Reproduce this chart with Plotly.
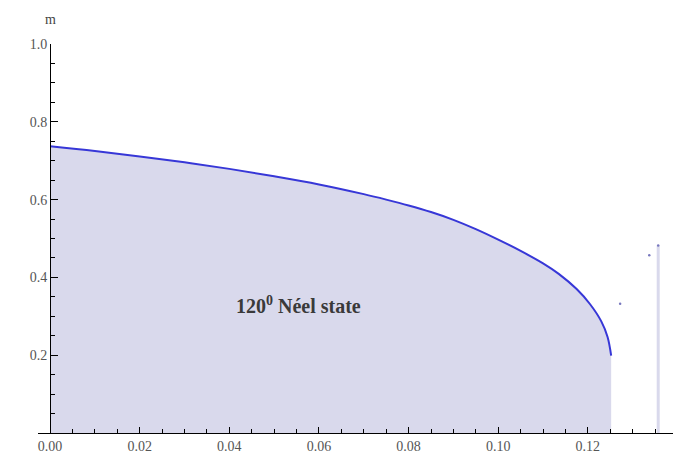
import plotly.graph_objects as go

# data
alpha = [0.0, 0.01, 0.02, 0.03, 0.04, 0.05, 0.06, 0.07, 0.075, 0.08, 0.085,
         0.09, 0.095, 0.10, 0.105, 0.11, 0.1135, 0.1175, 0.1205, 0.123, 0.1244, 0.1252]
m_vals = [0.737, 0.725, 0.711, 0.696, 0.679, 0.660, 0.639, 0.614, 0.600, 0.585, 0.568,
          0.548, 0.524, 0.497, 0.468, 0.436, 0.409, 0.370, 0.331, 0.287, 0.247, 0.199]
spike_alpha = [0.1357, 0.1357]
spike_m = [0.0, 0.482]
dots_alpha = [0.1272, 0.1337, 0.1357]
dots_m = [0.332, 0.457, 0.482]

x_ticks = [0.0, 0.02, 0.04, 0.06, 0.08, 0.10, 0.12]
x_labels = ["0.00", "0.02", "0.04", "0.06", "0.08", "0.10", "0.12"]
y_ticks = [0.2, 0.4, 0.6, 0.8, 1.0]
y_labels = ["0.2", "0.4", "0.6", "0.8", "1.0"]

fill_col = "rgb(217,217,236)"
line_col = "rgb(55,55,215)"
tick_font = dict(family="Liberation Serif", size=14, color="#555555")

fig = go.Figure()
fig.add_trace(go.Scatter(x=alpha, y=m_vals, mode="lines", fill="tozeroy",
                         fillcolor=fill_col,
                         line=dict(color=line_col, width=2, shape="spline", smoothing=1.0),
                         hoverinfo="skip", showlegend=False))
fig.add_trace(go.Scatter(x=spike_alpha, y=spike_m, mode="lines",
                         line=dict(color=fill_col, width=3), showlegend=False))
fig.add_trace(go.Scatter(x=dots_alpha, y=dots_m, mode="markers",
                         marker=dict(color="rgb(120,120,190)", size=2.5), showlegend=False))

x0 = -0.0027
x1 = 0.139
l_m, r_m = 30, 20
ypos = (0 - x0) / (x1 - x0)

fig.update_layout(
    width=685, height=458,
    margin=dict(l=l_m, r=r_m, t=36, b=30),
    plot_bgcolor="white", paper_bgcolor="white",
    showlegend=False,
    xaxis=dict(range=[x0, x1], showgrid=False, zeroline=False,
               showline=True, linecolor="black", linewidth=1.2,
               tickvals=x_ticks, ticktext=x_labels, ticks="inside",
               ticklen=6, tickcolor="black", tickwidth=1, tickfont=tick_font,
               minor=dict(dtick=0.005, tick0=0, ticks="inside", ticklen=3.5,
                          tickcolor="black", tickwidth=1)),
    yaxis=dict(range=[0, 1.0], showgrid=False, zeroline=False,
               anchor="free", position=ypos,
               showline=True, linecolor="black", linewidth=1.2,
               tickvals=y_ticks, ticktext=y_labels, ticks="inside",
               ticklen=7, tickcolor="black", tickwidth=1, tickfont=tick_font,
               minor=dict(dtick=0.05, tick0=0, ticks="inside", ticklen=4,
                          tickcolor="black", tickwidth=1)),
    annotations=[
        dict(x=0.0555, y=0.33, xref="x", yref="y", showarrow=False,
             text="<b>120<sup>0</sup> Néel state</b>",
             font=dict(family="Liberation Serif", size=20, color="#3a3a3a")),
        dict(x=0, y=1.0, xref="x", yref="y", showarrow=False, yshift=25,
             text="m", font=dict(family="Liberation Serif", size=14, color="#444444")),
        dict(x=x1, y=0, xref="x", yref="y", showarrow=False, xanchor="left",
             xshift=12, text="α", font=dict(family="Liberation Serif", size=14, color="#444444")),
    ],
)

fig.write_html("out.html")
